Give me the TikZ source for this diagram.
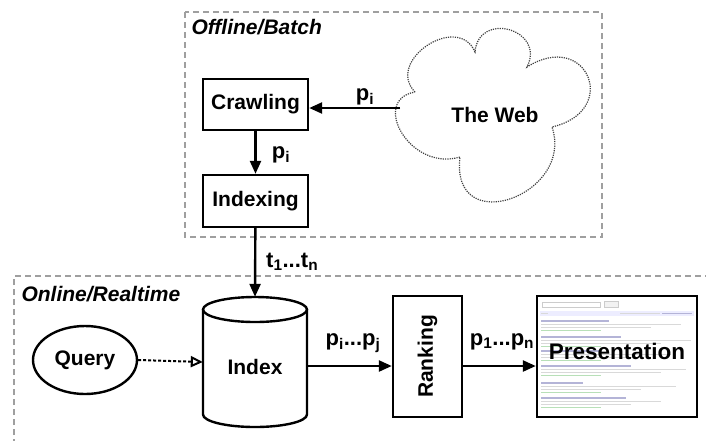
\documentclass[tikz,border=0pt]{standalone}
\usepackage{fontspec}
\setmainfont{Liberation Sans}
\usetikzlibrary{arrows.meta,shapes.geometric}
\begin{document}
\begin{tikzpicture}[x=1pt,y=-1pt,
  txt/.style={font=\fontsize{21}{25}\selectfont\bfseries},
  box/.style={draw,line width=2.4pt,inner sep=0pt,txt},
  grp/.style={draw=gray!75,line width=1.1pt,dash pattern=on 6pt off 4pt},
  grplbl/.style={font=\fontsize{21}{25}\selectfont\bfseries\itshape,anchor=west},
  arr/.style={line width=2.4pt,-{Triangle[length=13pt,width=11pt]}},
  qarr/.style={line width=2pt,dash pattern=on 3pt off 2pt,-{Triangle[open,length=12pt,width=11pt,line width=2pt]}},
  lbl/.style={font=\fontsize{22}{26}\selectfont\bfseries,anchor=base,inner sep=0pt},
  cloudline/.style={draw=black!75,line width=1.2pt,dash pattern=on 1.2pt off 1.1pt},
  lnk/.style={line width=1.2pt,draw=blue!30!gray!45},
  gry/.style={line width=1pt,draw=gray!30},
  url/.style={line width=1pt,draw=green!40!gray!40},
]
\useasboundingbox (0,0) rectangle (706,440);

% groups
\draw[grp] (185,12) rectangle (602,237);
\node[grplbl] (offl) at (188,27) {Offline/Batch};
\coordinate (onbl) at (14,445);
\coordinate (ontl) at (14,276);
\coordinate (ontr) at (712,276);
\draw[grp] (onbl) -- (ontl) -- (ontr);
\node[grplbl] (onl) at (18,294) {Online/Realtime};

% offline nodes
\node[box,minimum width=105,minimum height=51] (crawl) at (255.5,104.5) {Crawling};
\node[box,minimum width=105,minimum height=52] (indexing) at (255.5,201) {Indexing};
% the cloud
\draw[cloudline] (415,92)
  .. controls (384.6,60.9) and (458,12.1) .. (475,52)
  .. controls (478.7,10.1) and (546.1,29.5) .. (527,67)
  .. controls (587,29) and (621,111) .. (552,127)
  .. controls (575,195) and (450,240) .. (460,157)
  .. controls (410,172) and (370,100) .. cycle;
\node[txt] (web) at (495,115) {The Web};
\coordinate (webl) at (400,108);

% online nodes
\node[ellipse,draw,line width=2.4pt,minimum width=104,minimum height=68,inner sep=0pt,txt] (query) at (85,360) {Query};
\node[minimum width=104,minimum height=130,inner sep=0pt] (idx) at (255,362) {};
\draw[line width=2.4pt,fill=white] (203,309.5) -- (203,414.5)
   arc[start angle=180,end angle=360,x radius=52pt,y radius=12.5pt] -- (307,309.5);
\draw[line width=2.4pt] (255,309.5) ellipse [x radius=52pt,y radius=12.5pt];
\node[txt] (idxlbl) at (255,367) {Index};

\node[box,minimum width=69,minimum height=121] (rank) at (427.5,356.5) {};
\node[txt,rotate=90] (ranklbl) at (rank) {Ranking};

\node[box,minimum width=160,minimum height=121] (pres) at (617,356.5) {};
% screenshot mock-up
\draw[gray!40,line width=0.6pt] (542,302) rectangle (600,307);
\draw[gray!40,fill=gray!10,line width=0.6pt] (604,301.5) rectangle (618,307);
\fill[blue!7] (540,311) rectangle (694,315.5);
\draw[gry] (541,313) -- (548,313);
\draw[gry] (620,313) -- (660,313);
\draw[lnk,line width=0.9pt] (662,313) -- (692,313);
\foreach \yy/\lw/\ga/\gb in {321/68/140/110, 337/80/150/120, 351/60/130/95, 366/90/145/120, 383/42/135/100, 398/85/120/90} {
  \draw[lnk] (541,\yy) -- ++(\lw,0);
  \draw[gry] (541,\yy+3) -- ++(\ga,0);
  \draw[gry] (541,\yy+6) -- ++(\gb,0);
  \draw[url] (541,\yy+9) -- ++(60,0);
}
\node[font=\fontsize{22.5}{26}\selectfont\bfseries] (preslbl) at (617,351) {Presentation};

% connectors
\draw[arr] (webl) -- (crawl.east |- webl);
\draw[arr] (crawl) -- (indexing);
\draw[arr] (indexing) -- (idx.north);
\draw[qarr] (query.east) -- (idx.west);
\coordinate (rowy) at (0,366);
\draw[arr] (idx.east |- rowy) -- (rank.west |- rowy);
\draw[arr] (rank.east |- rowy) -- (pres.west |- rowy);

% labels
\node[lbl] (l1) at (365,100) {p\textsubscript{i}};
\node[lbl] (l2) at (281,158) {p\textsubscript{i}};
\node[lbl,anchor=base west] (l3) at (266,267) {t\textsubscript{1}...t\textsubscript{n}};
\node[lbl] (l4) at (353,345) {p\textsubscript{i}...p\textsubscript{j}};
\node[lbl] (l5) at (502,345) {p\textsubscript{1}...p\textsubscript{n}};
\end{tikzpicture}
\end{document}
